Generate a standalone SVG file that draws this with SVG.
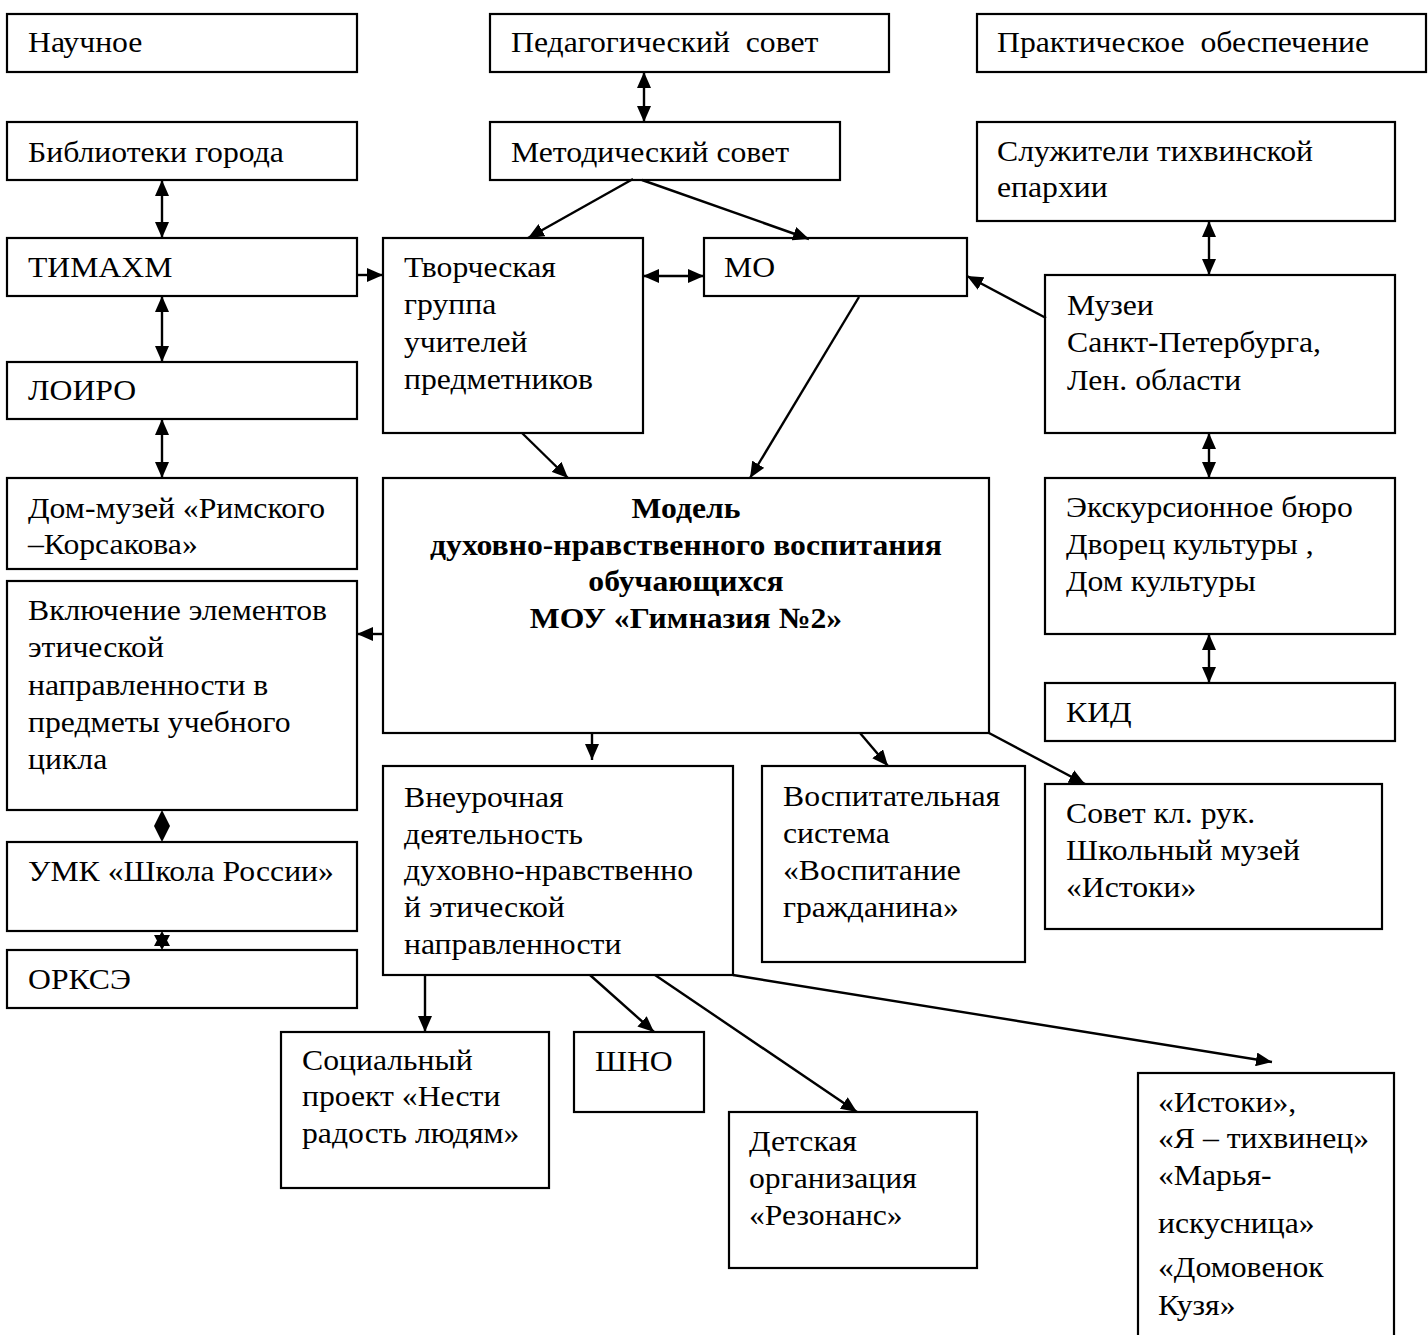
<svg xmlns="http://www.w3.org/2000/svg" width="1428" height="1335" viewBox="0 0 1428 1335">
<defs>
<style>
.box{fill:#fff;stroke:#000;stroke-width:2.2}
.t{font-family:"Liberation Serif","Times New Roman",serif;font-size:29.5px;fill:#000}
.b{font-weight:bold;text-anchor:middle}
.c{fill:none;stroke:#000;stroke-width:2.4}
.one{marker-end:url(#ah)}
.two{marker-start:url(#ah);marker-end:url(#ah)}
</style>
<marker id="ah" markerUnits="userSpaceOnUse" markerWidth="16" markerHeight="14" refX="16" refY="7" orient="auto-start-reverse" viewBox="0 0 16 14">
<path d="M0,0 L16,7 L0,14 z" fill="#000"/>
</marker>
</defs>
<rect width="1428" height="1335" fill="#fff"/>

<g id="n-nauchnoe"><rect class="box" x="7" y="14" width="350" height="58"/><text class="t" transform="translate(28,52) scale(1.075,1)">Научное</text></g>
<g id="n-pedsovet"><rect class="box" x="490" y="14" width="399" height="58"/><text class="t" transform="translate(511,52) scale(1.075,1)">Педагогический &#160;совет</text></g>
<g id="n-praktich"><rect class="box" x="977" y="14" width="449" height="58"/><text class="t" transform="translate(997,52) scale(1.075,1)">Практическое &#160;обеспечение</text></g>

<g id="n-biblioteki"><rect class="box" x="7" y="122" width="350" height="58"/><text class="t" transform="translate(28,162) scale(1.075,1)">Библиотеки города</text></g>
<g id="n-metodsovet"><rect class="box" x="490" y="122" width="350" height="58"/><text class="t" transform="translate(511,162) scale(1.075,1)">Методический совет</text></g>
<g id="n-sluzhiteli"><rect class="box" x="977" y="122" width="418" height="99"/><text class="t" transform="translate(997,161) scale(1.075,1)"><tspan x="0" dy="0">Служители тихвинской</tspan><tspan x="0" dy="36">епархии</tspan></text></g>

<g id="n-timahm"><rect class="box" x="7" y="238" width="350" height="58"/><text class="t" transform="translate(28,277) scale(1.075,1)">ТИМАХМ</text></g>
<g id="n-tvorch"><rect class="box" x="383" y="238" width="260" height="195"/><text class="t" transform="translate(404,277) scale(1.075,1)"><tspan x="0" dy="0">Творческая</tspan><tspan x="0" dy="37.5">группа</tspan><tspan x="0" dy="37.5">учителей</tspan><tspan x="0" dy="37.5">предметников</tspan></text></g>
<g id="n-mo"><rect class="box" x="704" y="238" width="263" height="58"/><text class="t" transform="translate(724,277) scale(1.075,1)">МО</text></g>
<g id="n-muzei"><rect class="box" x="1045" y="275" width="350" height="158"/><text class="t" transform="translate(1067,315) scale(1.075,1)"><tspan x="0" dy="0">Музеи</tspan><tspan x="0" dy="37.5">Санкт-Петербурга,</tspan><tspan x="0" dy="37.5">Лен. области</tspan></text></g>

<g id="n-loiro"><rect class="box" x="7" y="362" width="350" height="57"/><text class="t" transform="translate(28,400) scale(1.075,1)">ЛОИРО</text></g>

<g id="n-dommuzei"><rect class="box" x="7" y="478" width="350" height="91"/><text class="t" transform="translate(28,518) scale(1.075,1)"><tspan x="0" dy="0">Дом-музей «Римского</tspan><tspan x="0" dy="36">–Корсакова»</tspan></text></g>
<g id="n-model"><rect class="box" x="383" y="478" width="606" height="255"/><text class="t b" transform="translate(686,518) scale(1.075,1)"><tspan x="0" dy="0">Модель</tspan><tspan x="0" dy="36.7">духовно-нравственного воспитания</tspan><tspan x="0" dy="36.7">обучающихся</tspan><tspan x="0" dy="36.7">МОУ «Гимназия №2»</tspan></text></g>
<g id="n-ekskurs"><rect class="box" x="1045" y="478" width="350" height="156"/><text class="t" transform="translate(1066,517) scale(1.075,1)"><tspan x="0" dy="0">Экскурсионное бюро</tspan><tspan x="0" dy="37">Дворец культуры ,</tspan><tspan x="0" dy="37">Дом культуры</tspan></text></g>

<g id="n-vkluchenie"><rect class="box" x="7" y="581" width="350" height="229"/><text class="t" transform="translate(28,620) scale(1.075,1)"><tspan x="0" dy="0">Включение элементов</tspan><tspan x="0" dy="37.3">этической</tspan><tspan x="0" dy="37.3">направленности в</tspan><tspan x="0" dy="37.3">предметы учебного</tspan><tspan x="0" dy="37.3">цикла</tspan></text></g>
<g id="n-kid"><rect class="box" x="1045" y="683" width="350" height="58"/><text class="t" transform="translate(1066,722) scale(1.075,1)">КИД</text></g>

<g id="n-vneuroch"><rect class="box" x="383" y="766" width="350" height="209"/><text class="t" transform="translate(404,807) scale(1.075,1)"><tspan x="0" dy="0">Внеурочная</tspan><tspan x="0" dy="36.7">деятельность</tspan><tspan x="0" dy="36.7">духовно-нравственно</tspan><tspan x="0" dy="36.7">й этической</tspan><tspan x="0" dy="36.7">направленности</tspan></text></g>
<g id="n-vospit"><rect class="box" x="762" y="766" width="263" height="196"/><text class="t" transform="translate(783,806) scale(1.075,1)"><tspan x="0" dy="0">Воспитательная</tspan><tspan x="0" dy="37">система</tspan><tspan x="0" dy="37">«Воспитание</tspan><tspan x="0" dy="37">гражданина»</tspan></text></g>
<g id="n-sovet"><rect class="box" x="1045" y="784" width="337" height="145"/><text class="t" transform="translate(1066,823) scale(1.075,1)"><tspan x="0" dy="0">Совет кл. рук.</tspan><tspan x="0" dy="37">Школьный музей</tspan><tspan x="0" dy="37">«Истоки»</tspan></text></g>

<g id="n-umk"><rect class="box" x="7" y="842" width="350" height="89"/><text class="t" transform="translate(28,881) scale(1.075,1)">УМК «Школа России»</text></g>
<g id="n-orkse"><rect class="box" x="7" y="950" width="350" height="58"/><text class="t" transform="translate(28,989) scale(1.075,1)">ОРКСЭ</text></g>

<g id="n-social"><rect class="box" x="281" y="1032" width="268" height="156"/><text class="t" transform="translate(302,1070) scale(1.075,1)"><tspan x="0" dy="0">Социальный</tspan><tspan x="0" dy="36.5">проект «Нести</tspan><tspan x="0" dy="36.5">радость людям»</tspan></text></g>
<g id="n-shno"><rect class="box" x="574" y="1032" width="130" height="80"/><text class="t" transform="translate(595,1071) scale(1.075,1)">ШНО</text></g>
<g id="n-detskaya"><rect class="box" x="729" y="1112" width="248" height="156"/><text class="t" transform="translate(749,1151) scale(1.075,1)"><tspan x="0" dy="0">Детская</tspan><tspan x="0" dy="37">организация</tspan><tspan x="0" dy="37">«Резонанс»</tspan></text></g>
<g id="n-istoki"><rect class="box" x="1138" y="1073" width="256" height="280"/><text class="t" transform="translate(1158,1112) scale(1.075,1)"><tspan x="0" y="0">«Истоки»,</tspan><tspan x="0" y="36">«Я – тихвинец»</tspan><tspan x="0" y="73">«Марья-</tspan><tspan x="0" y="121">искусница»</tspan><tspan x="0" y="165">«Домовенок</tspan><tspan x="0" y="203">Кузя»</tspan></text></g>

<g id="connectors">
<line class="c two" x1="644" y1="72" x2="644" y2="122"/>
<line class="c two" x1="162" y1="180" x2="162" y2="238"/>
<line class="c two" x1="162" y1="296" x2="162" y2="362"/>
<line class="c two" x1="162" y1="419" x2="162" y2="478"/>
<line class="c one" x1="357" y1="275" x2="383" y2="275"/>
<line class="c two" x1="643" y1="276" x2="704" y2="276"/>
<line class="c one" x1="633" y1="179" x2="528" y2="238"/>
<line class="c one" x1="642" y1="180" x2="809" y2="239"/>
<line class="c two" x1="1209" y1="221" x2="1209" y2="275"/>
<line class="c one" x1="1046" y1="318" x2="967" y2="276"/>
<line class="c one" x1="522" y1="433" x2="568" y2="478"/>
<line class="c one" x1="859" y1="297" x2="750" y2="478"/>
<line class="c two" x1="1209" y1="433" x2="1209" y2="478"/>
<line class="c two" x1="1209" y1="634" x2="1209" y2="683"/>
<line class="c one" x1="383" y1="634" x2="357" y2="634"/>
<polygon points="162,810 170,826 162,842 154,826" fill="#000"/>
<polygon points="162,931 170,946 154,946" fill="#000"/>
<polygon points="162,950 154,935 170,935" fill="#000"/>
<line class="c one" x1="592" y1="733" x2="592" y2="760"/>
<line class="c one" x1="860" y1="733" x2="888" y2="766"/>
<line class="c one" x1="989" y1="733" x2="1085" y2="784"/>
<line class="c one" x1="425" y1="975" x2="425" y2="1032"/>
<line class="c one" x1="590" y1="975" x2="654" y2="1032"/>
<line class="c one" x1="655" y1="975" x2="857" y2="1112"/>
<line class="c one" x1="733" y1="975" x2="1272" y2="1062"/>
</g>
</svg>
